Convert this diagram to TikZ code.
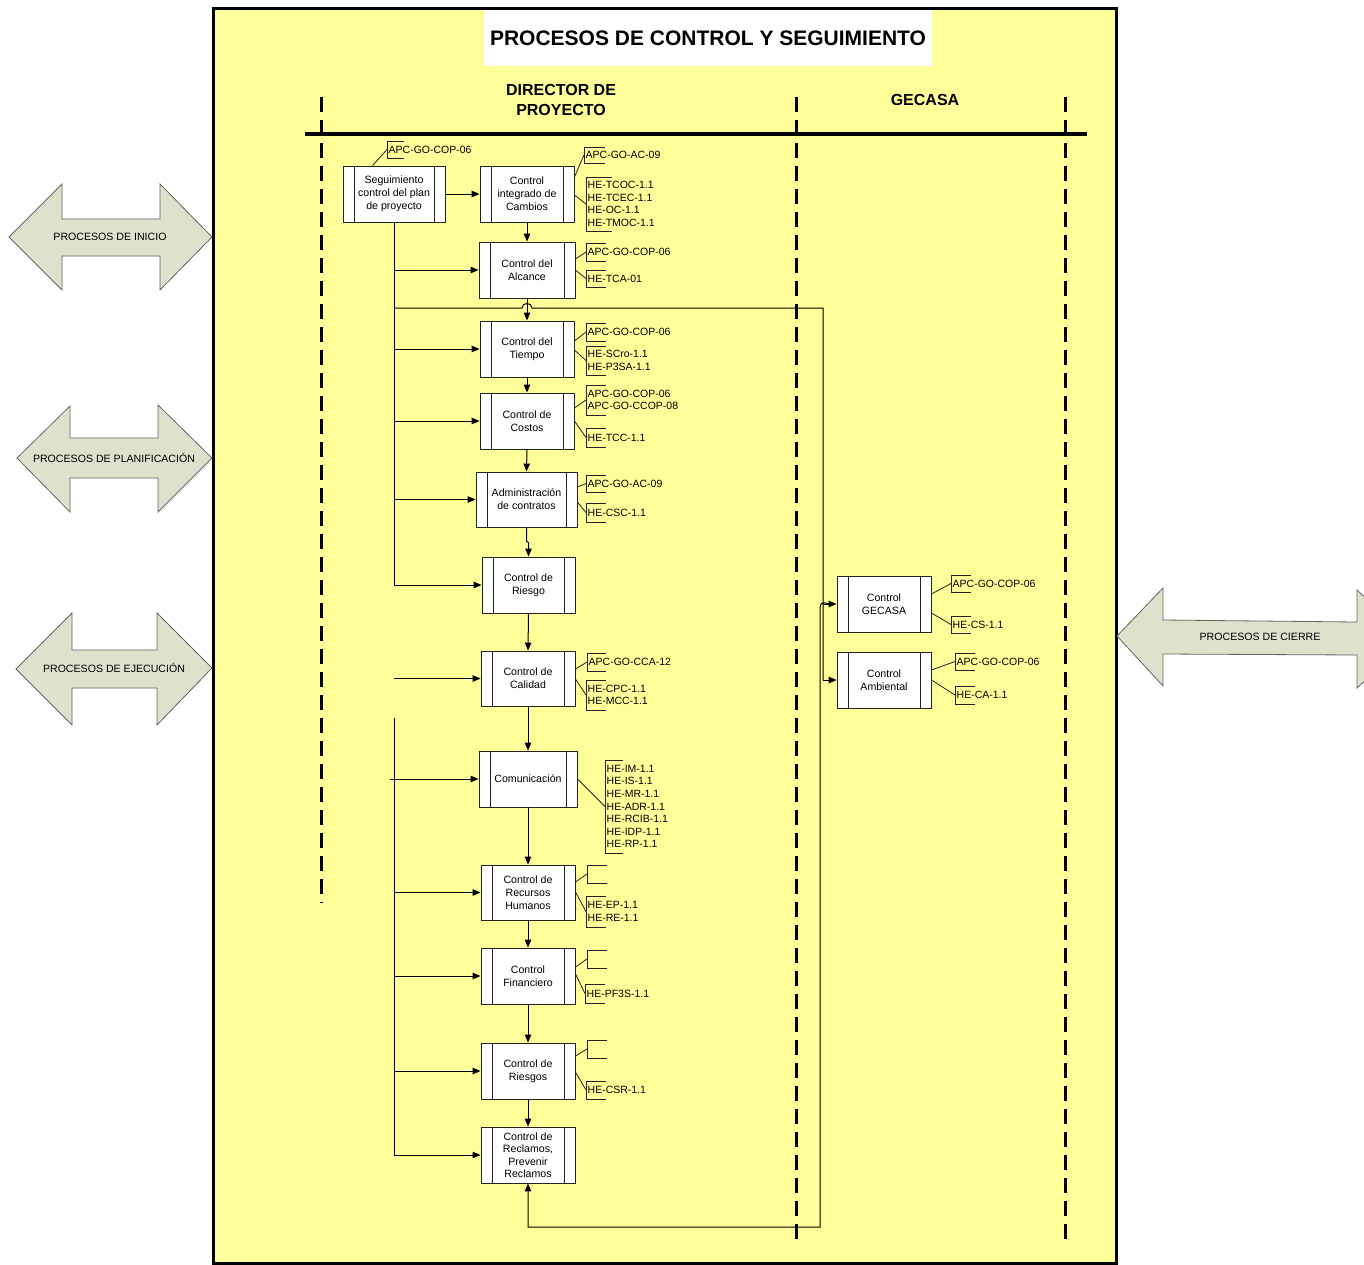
\documentclass[tikz,border=0pt]{standalone}
\usepackage{fontspec}
\setmainfont{Liberation Sans}
\setsansfont{Liberation Sans}
\usetikzlibrary{arrows.meta,calc}
\definecolor{paper}{RGB}{255,255,153}
\definecolor{arrowfill}{RGB}{221,226,204}
\definecolor{edge}{RGB}{35,35,35}
\tikzset{
 proc/.style={draw=edge, line width=0.9pt, fill=white, inner sep=0pt, align=center,
   font=\fontsize{10.6}{13}\selectfont,
   path picture={\draw[edge, line width=0.9pt]
     ([xshift=11pt]path picture bounding box.north west) -- ([xshift=11pt]path picture bounding box.south west)
     ([xshift=-11pt]path picture bounding box.north east) -- ([xshift=-11pt]path picture bounding box.south east);}},
 flow/.style={line width=1pt, -{Triangle[length=8pt,width=6.5pt]}},
 plainline/.style={line width=1pt},
 lead/.style={line width=0.8pt, draw=edge},
 brk/.style={line width=0.8pt, draw=edge},
 note/.style={anchor=west, inner sep=0pt, align=left, font=\fontsize{10.5}{12.6}\selectfont},
 lane/.style={line width=3pt, dash pattern=on 15pt off 8pt},
 bigarrow/.style={draw=edge!70, line width=0.8pt, fill=arrowfill},
 arrowtext/.style={font=\fontsize{10.6}{12}\selectfont, inner sep=0pt},
}
\newcommand{\callout}[6]{%
 \draw[brk] (#2+#5,#3) -- (#2,#3) -- (#2,#4) -- (#2+#5,#4);
 \coordinate (#1) at (#2,{(#3+#4)/2});
 \node[note] (#1-t) at (#2+1.5,{(#3+#4)/2}) {#6};
}
\begin{document}
\begin{tikzpicture}[x=1pt,y=-1pt]
\path[use as bounding box] (0,0) rectangle (1364,1264);
\fill[white] (0,0) rectangle (1364,1264);
\begin{scope}
\clip (0,0) rectangle (1364,1264);
% main frame
\fill[paper] (213,8) rectangle (1116,1264);
\draw[line width=3pt] (213,8) rectangle (1116,1263);
% side arrows
\draw[bigarrow] (9,237) -- (62,184) -- (62,219) -- (160,219) -- (160,184) -- (212,237) -- (160,290) -- (160,256) -- (62,256) -- (62,290) -- cycle;
\node[arrowtext] (inicio) at (110,237) {PROCESOS DE INICIO};
\draw[bigarrow] (17,458) -- (70,406) -- (70,438) -- (158,438) -- (158,405) -- (212,458) -- (158,512) -- (158,478) -- (70,478) -- (70,512) -- cycle;
\node[arrowtext] (planif) at (114,458) {PROCESOS DE PLANIFICACIÓN};
\draw[bigarrow] (16,669) -- (72,613) -- (72,650) -- (157,650) -- (157,613) -- (212,668) -- (157,725) -- (157,688) -- (72,688) -- (72,725) -- cycle;
\node[arrowtext] (ejec) at (114,668) {PROCESOS DE EJECUCIÓN};
\draw[bigarrow] (1117,636) -- (1163,588) -- (1163,620) -- (1357,622) -- (1357,590) -- (1410,640) -- (1357,688) -- (1357,655) -- (1163,654) -- (1163,686) -- cycle;
\node[arrowtext] (cierre) at (1260,637) {PROCESOS DE CIERRE};
\end{scope}
% title
\node[fill=white, minimum width=448pt, minimum height=56pt, inner sep=0pt,
  font=\bfseries\fontsize{21}{24}\selectfont] (title) at (708,38) {PROCESOS DE CONTROL Y SEGUIMIENTO};
\node[font=\bfseries\fontsize{16}{20}\selectfont, align=center] (dp) at (561,100) {DIRECTOR DE\\PROYECTO};
\node[font=\bfseries\fontsize{16}{20}\selectfont] (gc) at (925,100) {GECASA};
% lanes
\draw[lane] (321,97) -- (321,903);
\draw[lane] (796,97) -- (796,1245);
\draw[lane] (1065,97) -- (1065,1245);
\draw[line width=4pt] (305,134) -- (1087,134);
% process boxes
\node[proc, minimum width=102pt, minimum height=56pt] (seg) at (394,194) {Seguimiento\\control del plan\\de proyecto};
\node[proc, minimum width=94pt, minimum height=56pt] (camb) at (527,194) {Control\\integrado de\\Cambios};
\node[proc, minimum width=96pt, minimum height=56pt] (alc) at (527,270) {Control del\\Alcance};
\node[proc, minimum width=94pt, minimum height=56pt] (tiem) at (527,349) {Control del\\Tiempo};
\node[proc, minimum width=94pt, minimum height=56pt] (cost) at (527,421) {Control de\\Costos};
\node[proc, minimum width=101pt, minimum height=55pt] (adm) at (526.5,499.5) {Administración\\de contratos};
\node[proc, minimum width=93pt, minimum height=56pt] (rsg) at (528.5,585) {Control de\\Riesgo};
\node[proc, minimum width=94pt, minimum height=55pt] (cal) at (528,678.5) {Control de\\Calidad};
\node[proc, minimum width=98pt, minimum height=56pt] (com) at (528,779) {Comunicación};
\node[proc, minimum width=94pt, minimum height=55pt] (rrhh) at (528,892.5) {Control de\\Recursos\\Humanos};
\node[proc, minimum width=94pt, minimum height=56pt] (fin) at (528,976) {Control\\Financiero};
\node[proc, minimum width=94pt, minimum height=56pt] (rsgs) at (528,1071) {Control de\\Riesgos};
\node[proc, minimum width=94pt, minimum height=56pt, font=\fontsize{10.6}{12.4}\selectfont] (recl) at (528,1155) {Control de\\Reclamos,\\Prevenir\\Reclamos};
\node[proc, minimum width=94pt, minimum height=56pt] (gec) at (884,604) {Control\\GECASA};
\node[proc, minimum width=94pt, minimum height=56pt] (amb) at (884,680) {Control\\Ambiental};
% connectors
\draw[flow] (seg.east) -- (camb.west);
\draw[flow] (camb.south) -- (alc.north);
\draw[plainline] (seg.south) -- (seg.south |- rsg.west);
\draw[flow] (seg.south |- alc.west) -- (alc.west);
\draw[flow] (seg.south |- tiem.west) -- (tiem.west);
\draw[flow] (seg.south |- cost.west) -- (cost.west);
\draw[flow] (seg.south |- adm.west) -- (adm.west);
\draw[flow] (seg.south |- rsg.west) -- (rsg.west);
\coordinate (loopA) at (394,308);
\coordinate (loopB) at (823,308);
\coordinate (loopC) at (823,680);
\draw[plainline] (loopA) -- (522,308) .. controls (522,302) and (532,302) .. (532,308) -- (loopB) -- (loopC);
\draw[flow] (loopC) -- (amb.west);
\draw[flow] (loopB |- gec.west) -- (gec.west);
\draw[flow] (alc.south) -- (tiem.north);
\draw[flow] (tiem.south) -- (cost.north);
\draw[flow] (cost.south) -- (adm.north);
\draw[flow] (adm.south) -- ($(adm.south)+(0,14)$) -- ($(rsg.north)+(0,-14)$) -- (rsg.north);
\draw[flow] (rsg.south) -- (cal.north);
\draw[flow] (cal.south) -- (com.north);
\draw[flow] (com.south) -- (rrhh.north);
\draw[flow] (rrhh.south) -- (fin.north);
\draw[flow] (fin.south) -- (rsgs.north);
\draw[flow] (rsgs.south) -- (recl.north);
\coordinate (calin) at (394,678.5);
\draw[flow] (calin) -- (cal.west);
\coordinate (lowtop) at (394,718);
\draw[plainline] (lowtop) -- (lowtop |- recl.west);
\draw[flow] ($(lowtop |- com.west)+(-4,0)$) -- (com.west);
\draw[flow] (lowtop |- rrhh.west) -- (rrhh.west);
\draw[flow] (lowtop |- fin.west) -- (fin.west);
\draw[flow] (lowtop |- rsgs.west) -- (rsgs.west);
\draw[flow] (lowtop |- recl.west) -- (recl.west);
\coordinate (hop) at (829,604);
\coordinate (backcorner) at (820,1227);
\draw[flow] (hop) .. controls (820,601) and (820,604) .. (820,612) -- (backcorner) -| (recl.south);
% callouts
\callout{a1}{387}{141}{158}{17}{APC-GO-COP-06}
\draw[lead] ($(seg.north west)+(30,0)$) -- (a1);
\callout{b1}{584}{147}{163}{21}{APC-GO-AC-09}
\draw[lead] (camb.east |- 0,177) -- (b1);
\callout{b2}{586}{177}{231}{26}{HE-TCOC-1.1\\HE-TCEC-1.1\\HE-OC-1.1\\HE-TMOC-1.1}
\draw[lead] (camb.east |- 0,195) -- (b2);
\callout{c1}{586}{243}{261}{20}{APC-GO-COP-06}
\draw[lead] (alc.east |- 0,259) -- (c1);
\callout{c2}{586}{270}{287}{20}{HE-TCA-01}
\draw[lead] (alc.east |- 0,270) -- (c2);
\callout{d1}{586}{323}{341}{20}{APC-GO-COP-06}
\draw[lead] (tiem.east |- 0,341) -- (d1);
\callout{d2}{586}{346}{375}{20}{HE-SCro-1.1\\HE-P3SA-1.1}
\draw[lead] (tiem.east |- 0,350) -- (d2);
\callout{e1}{586}{385}{415}{20}{APC-GO-COP-06\\APC-GO-CCOP-08}
\draw[lead] (cost.east |- 0,408) -- (e1);
\callout{e2}{586}{428}{447}{20}{HE-TCC-1.1}
\draw[lead] (cost.east |- 0,421) -- (e2);
\callout{f1}{586}{475}{492}{20}{APC-GO-AC-09}
\draw[lead] (adm.east |- 0,487) -- (f1);
\callout{f2}{586}{503}{522}{20}{HE-CSC-1.1}
\draw[lead] (adm.east |- 0,502) -- (f2);
\callout{g1}{587}{653}{671}{19}{APC-GO-CCA-12}
\draw[lead] (cal.east |- 0,669) -- (g1);
\callout{g2}{586}{680}{710}{20}{HE-CPC-1.1\\HE-MCC-1.1}
\draw[lead] (cal.east |- 0,679) -- (g2);
\callout{h1}{605}{760}{853}{18}{HE-IM-1.1\\HE-IS-1.1\\HE-MR-1.1\\HE-ADR-1.1\\HE-RCIB-1.1\\HE-IDP-1.1\\HE-RP-1.1}
\draw[lead] (com.east |- 0,779) -- (h1);
\callout{i1}{587}{865}{883}{20}{}
\draw[lead] (rrhh.east |- 0,882) -- (i1);
\callout{i2}{586}{896}{927}{20}{HE-EP-1.1\\HE-RE-1.1}
\draw[lead] (rrhh.east |- 0,892) -- (i2);
\callout{j1}{587}{950}{968}{20}{}
\draw[lead] (fin.east |- 0,967) -- (j1);
\callout{j2}{585}{984}{1003}{20}{HE-PF3S-1.1}
\draw[lead] (fin.east |- 0,974) -- (j2);
\callout{k1}{587}{1040}{1058}{20}{}
\draw[lead] (rsgs.east |- 0,1056) -- (k1);
\callout{k2}{586}{1081}{1099}{20}{HE-CSR-1.1}
\draw[lead] (rsgs.east |- 0,1072) -- (k2);
\callout{l1}{951}{575}{592}{20}{APC-GO-COP-06}
\draw[lead] (gec.east |- 0,594) -- (l1);
\callout{l2}{951}{616}{633}{20}{HE-CS-1.1}
\draw[lead] (gec.east |- 0,613) -- (l2);
\callout{m1}{955}{653}{670}{20}{APC-GO-COP-06}
\draw[lead] (amb.east |- 0,670) -- (m1);
\callout{m2}{955}{686}{704}{20}{HE-CA-1.1}
\draw[lead] (amb.east |- 0,680) -- (m2);
\end{tikzpicture}
\end{document}
